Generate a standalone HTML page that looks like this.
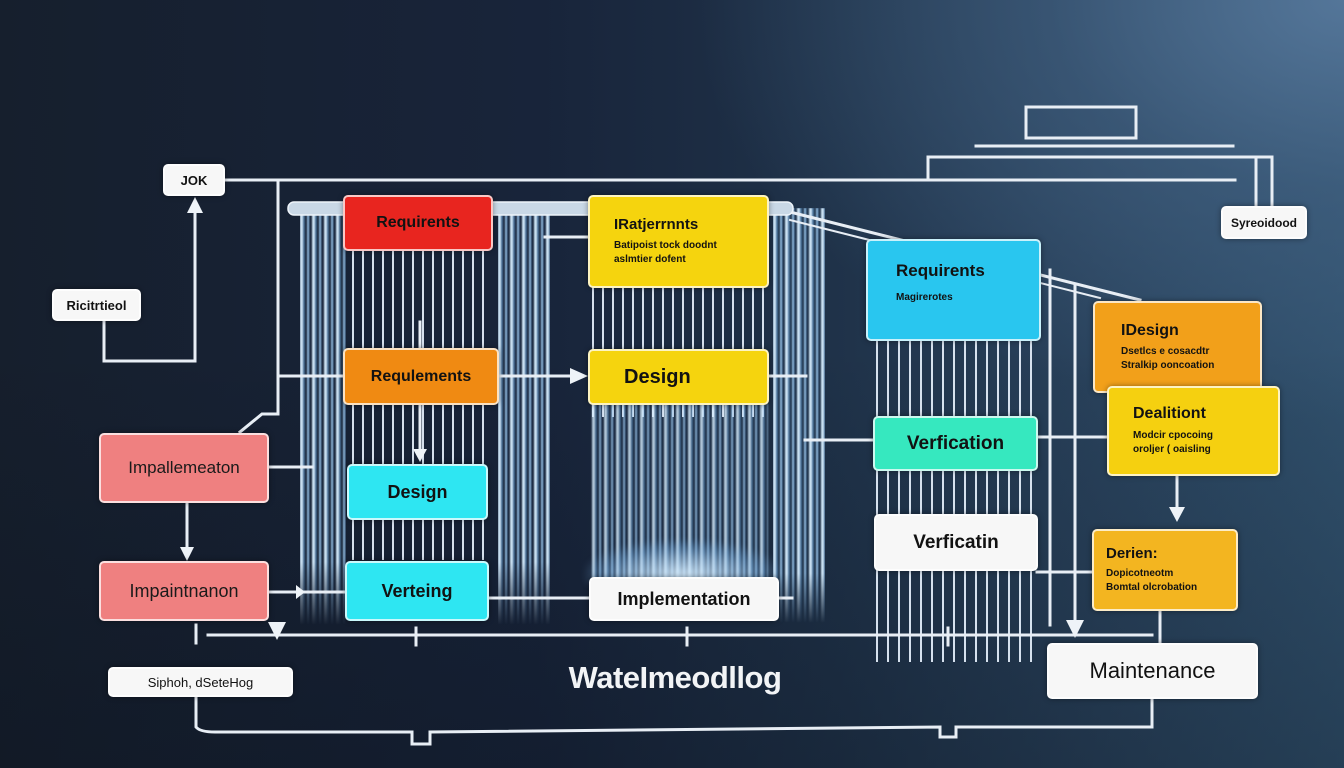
<!DOCTYPE html>
<html><head><meta charset="utf-8">
<style>
*{margin:0;padding:0;box-sizing:border-box}
html,body{width:1344px;height:768px;overflow:hidden}
body{position:relative;font-family:"Liberation Sans",Arial,sans-serif;
background:
radial-gradient(ellipse 650px 420px at 1344px 0px, rgba(88,122,158,0.9) 0%, rgba(70,102,136,0.55) 45%, rgba(40,60,85,0) 100%),
linear-gradient(180deg, rgba(0,0,0,0) 45%, rgba(5,10,18,0.25) 100%),
linear-gradient(90deg,#161f2d 0%,#18243a 40%,#1f3249 62%,#29425c 82%,#30506c 100%);}
.b{position:absolute;border-radius:5px;border:2px solid rgba(255,255,255,0.75);color:#121212;font-weight:bold;display:flex;flex-direction:column;justify-content:center;box-shadow:0 0 6px rgba(0,0,0,0.4)}
.c{align-items:center;text-align:center}
.w{background:#f7f7f7}
.st{position:absolute}
.grid{position:absolute;background:repeating-linear-gradient(90deg,rgba(230,240,252,0.92) 0 2px,transparent 2px 10px)}
.str{position:absolute;filter:blur(0.7px);
background:repeating-linear-gradient(90deg,rgba(215,238,255,0.95) 0 3px,rgba(110,170,225,0.55) 3px 5px,transparent 5px 7px,rgba(165,210,248,0.85) 7px 9px,rgba(60,110,165,0.35) 9px 10px,transparent 10px 12px);
box-shadow:0 0 10px rgba(120,180,240,0.35)}
.sm{font-size:10px;line-height:14px}
</style></head><body>

<!-- water streams -->
<div class="str" style="left:300px;top:205px;width:46px;height:420px;-webkit-mask:linear-gradient(180deg,#000 0%,#000 85%,transparent 100%)"></div>
<div class="str" style="left:498px;top:205px;width:52px;height:420px;-webkit-mask:linear-gradient(180deg,#000 0%,#000 85%,transparent 100%)"></div>
<div class="str" style="left:773px;top:208px;width:52px;height:415px;-webkit-mask:linear-gradient(180deg,#000 0%,#000 88%,transparent 100%)"></div>
<div class="grid" style="left:352px;top:250px;width:140px;height:310px"></div>
<div class="grid" style="left:592px;top:287px;width:176px;height:130px"></div>
<div class="str" style="left:592px;top:404px;width:176px;height:175px;opacity:0.85;box-shadow:none"></div>
<div class="st" style="left:585px;top:540px;width:195px;height:45px;background:radial-gradient(ellipse at 50% 80%,rgba(215,238,255,0.9),rgba(130,185,235,0.35) 55%,transparent 75%);filter:blur(3px)"></div>
<div class="grid" style="left:876px;top:340px;width:162px;height:322px;background:repeating-linear-gradient(90deg,rgba(230,240,252,0.92) 0 2px,transparent 2px 11px)"></div>

<svg class="st" style="left:0;top:0" width="1344" height="768" viewBox="0 0 1344 768">
<g stroke="#e8eef5" stroke-width="3" fill="none" stroke-linecap="square">
<line x1="224" y1="180" x2="1235" y2="180"/>
<polyline points="928,180 928,157 1272,157 1272,206"/>
<line x1="1256" y1="157" x2="1256" y2="206"/>
<line x1="976" y1="146" x2="1233" y2="146"/>
<rect x="1026" y="107" width="110" height="31"/>
<polyline points="104,320 104,361 195,361 195,205"/>
<polyline points="278,180 278,414 262,414 240,432"/>
<line x1="278" y1="376" x2="343" y2="376"/>
<line x1="268" y1="467" x2="312" y2="467"/>
<line x1="187" y1="502" x2="187" y2="550"/>
<line x1="268" y1="592" x2="345" y2="592"/>
<line x1="196" y1="625" x2="196" y2="643"/>
<line x1="208" y1="635" x2="1152" y2="635"/>
<line x1="416" y1="628" x2="416" y2="645"/>
<line x1="687" y1="628" x2="687" y2="645"/>
<line x1="948" y1="628" x2="948" y2="645"/>
<path d="M196,696 L196,727 Q200,732 215,732 L412,732 L412,744 L430,744 L430,732 L940,727 L940,737 L956,737 L956,727 L1152,727 L1152,698"/>
<line x1="498" y1="376" x2="575" y2="376"/>
<line x1="420" y1="322" x2="420" y2="348"/>
<line x1="420" y1="404" x2="420" y2="452"/>
<line x1="488" y1="598" x2="589" y2="598"/>
<line x1="778" y1="598" x2="792" y2="598"/>
<line x1="768" y1="376" x2="806" y2="376"/>
<line x1="545" y1="237" x2="588" y2="237"/>
<line x1="805" y1="440" x2="873" y2="440"/>
<line x1="1037" y1="437" x2="1107" y2="437"/>
<line x1="1037" y1="572" x2="1092" y2="572"/>
<line x1="1050" y1="270" x2="1050" y2="625"/>
<line x1="1075" y1="285" x2="1075" y2="625"/>
<line x1="1177" y1="475" x2="1177" y2="510"/>
<line x1="1160" y1="610" x2="1160" y2="643"/>
<line x1="790" y1="212" x2="1140" y2="300" stroke-width="3"/>
<line x1="790" y1="220" x2="1100" y2="298" stroke-width="2"/>
</g>
<rect x="288" y="202" width="505" height="13" rx="6" fill="#c9d8e6" stroke="#eef4fa" stroke-width="1.5"/>
<g fill="#eef3f8">
<polygon points="195,197 187,213 203,213"/>
<polygon points="187,561 180,547 194,547"/>
<polygon points="588,376 570,368 570,384"/>
<polygon points="420,462 413,449 427,449"/>
<polygon points="305,592 296,585 296,599"/>
<polygon points="277,640 268,622 286,622"/>
<polygon points="1075,638 1066,620 1084,620"/>
<polygon points="1177,522 1169,507 1185,507"/>
</g>
</svg>

<div class="b w c" style="left:163px;top:164px;width:62px;height:32px;font-size:13px;font-weight:bold">JOK</div>
<div class="b w c" style="left:52px;top:289px;width:89px;height:32px;font-size:13px">Ricitrtieol</div>
<div class="b w c" style="left:1221px;top:206px;width:86px;height:33px;font-size:12px">Syreoidood</div>
<div class="b w c" style="left:108px;top:667px;width:185px;height:30px;font-size:13px;font-weight:normal;color:#111">Siphoh, dSeteHog</div>

<div class="b c" style="left:99px;top:433px;width:170px;height:70px;background:#ef8080;font-size:17px;font-weight:normal;color:#1a1a1a">Impallemeaton</div>
<div class="b c" style="left:99px;top:561px;width:170px;height:60px;background:#ef8080;font-size:18px;font-weight:normal;color:#1a1a1a">Impaintnanon</div>

<div class="b c" style="left:343px;top:195px;width:150px;height:56px;background:#e8251f;font-size:16px">Requirents</div>
<div class="b c" style="left:343px;top:348px;width:156px;height:57px;background:#f08a12;font-size:16px">Requlements</div>
<div class="b c" style="left:347px;top:464px;width:141px;height:56px;background:#2ee6f2;font-size:18px">Design</div>
<div class="b c" style="left:345px;top:561px;width:144px;height:60px;background:#2ee6f2;font-size:18px">Verteing</div>

<div class="b" style="left:588px;top:195px;width:181px;height:93px;background:#f5d40e;padding-left:24px">
<div style="font-size:15px">IRatjerrnnts</div>
<div class="sm" style="margin-top:6px">Batipoist tock doodnt<br>aslmtier dofent</div></div>
<div class="b" style="left:588px;top:349px;width:181px;height:56px;background:#f5d40e;padding-left:34px;font-size:20px">Design</div>
<div class="b w c" style="left:589px;top:577px;width:190px;height:44px;font-size:18px">Implementation</div>

<div class="b" style="left:866px;top:239px;width:175px;height:102px;background:#29c6ef;padding-left:28px;justify-content:flex-start;padding-top:20px">
<div style="font-size:17px">Requirents</div>
<div class="sm" style="margin-top:10px">Magirerotes</div></div>
<div class="b c" style="left:873px;top:416px;width:165px;height:55px;background:#36e8bf;font-size:19px">Verfication</div>
<div class="b w c" style="left:874px;top:514px;width:164px;height:57px;font-size:19px">Verficatin</div>

<div class="b" style="left:1093px;top:301px;width:169px;height:92px;background:#f2a01a;padding-left:26px">
<div style="font-size:16px">IDesign</div>
<div class="sm" style="margin-top:5px">Dsetlcs e cosacdtr<br>Stralkip ooncoation</div></div>
<div class="b" style="left:1107px;top:386px;width:173px;height:90px;background:#f5d010;padding-left:24px">
<div style="font-size:16px">Dealitiont</div>
<div class="sm" style="margin-top:6px">Modcir cpocoing<br>oroljer ( oaisling</div></div>
<div class="b" style="left:1092px;top:529px;width:146px;height:82px;background:#f3b520;padding-left:12px">
<div style="font-size:15px">Derien:</div>
<div class="sm" style="margin-top:5px">Dopicotneotm<br>Bomtal olcrobation</div></div>
<div class="b w c" style="left:1047px;top:643px;width:211px;height:56px;font-size:22px;font-weight:normal;color:#111">Maintenance</div>

<div class="st" style="left:560px;top:660px;width:230px;text-align:center;color:#f2f4f6;font-weight:bold;font-size:31px;letter-spacing:-0.5px">WateImeodllog</div>

</body></html>
